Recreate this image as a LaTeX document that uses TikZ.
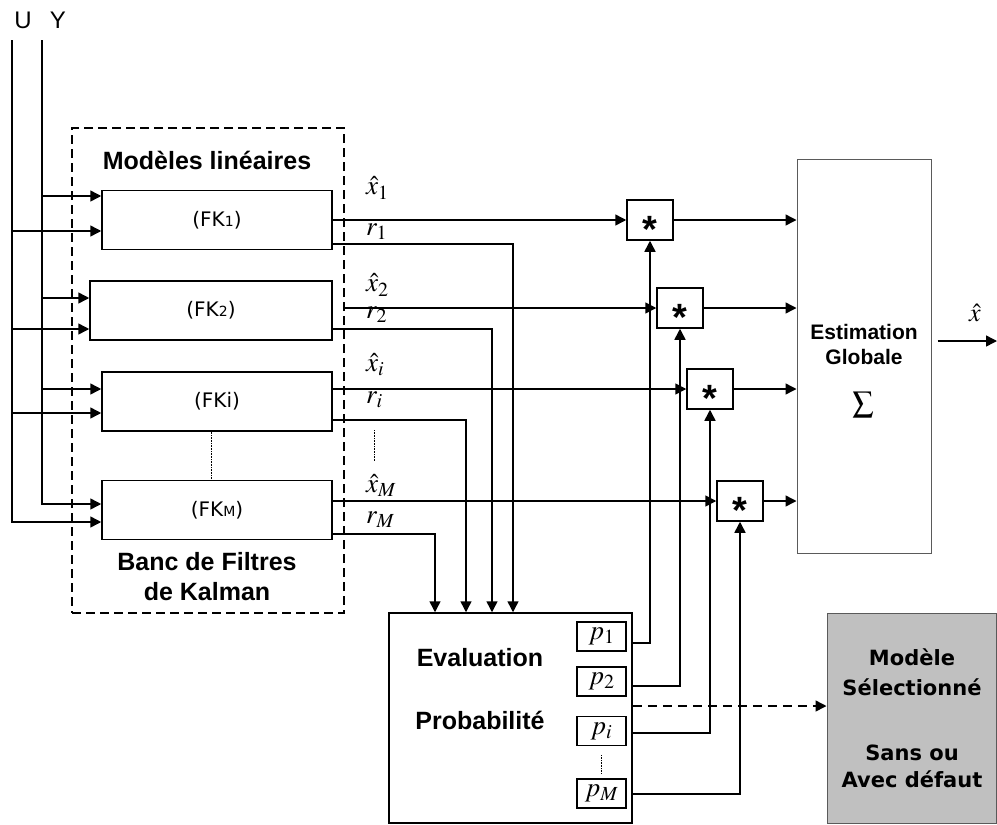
\documentclass[tikz,border=0pt]{standalone}
\usepackage{mathptmx}
\usepackage{fontspec}
\setmainfont{Liberation Sans}
\newfontfamily\comic{DejaVu Sans}
\usetikzlibrary{arrows.meta}
\definecolor{boxgray}{RGB}{192,192,192}
\definecolor{edgegray}{RGB}{90,90,90}
\newcommand{\smallc}[1]{{\fontsize{14}{14}\selectfont #1}}
\begin{document}
\begin{tikzpicture}[x=1pt,y=-1pt,
  ln/.style={line width=1.5pt},
  arr/.style={-{Triangle[length=11pt,width=11pt]}},
  blk/.style={draw,line width=1.5pt,rectangle,inner sep=0pt},
  fkbox/.style={blk,minimum width=230pt,minimum height=59pt,font=\comic\fontsize{20}{22}\selectfont},
  mult/.style={blk,minimum width=46pt,minimum height=40pt,font=\fontsize{38}{38}\selectfont\bfseries},
  pbox/.style={blk,minimum width=49pt,minimum height=29pt,font=\fontsize{27}{27}\selectfont},
  bigtxt/.style={font=\fontsize{25}{30}\selectfont\bfseries,align=center,inner sep=0pt},
  mlab/.style={font=\fontsize{27}{27}\selectfont,anchor=west,inner sep=0pt},
  io/.style={font=\fontsize{24}{24}\selectfont,inner sep=0pt}]
\useasboundingbox (0,0) rectangle (997,825);

% bank of filters (dashed)
\node[draw,dashed,dash pattern=on 9pt off 5pt,line width=1.3pt,minimum width=272pt,minimum height=485pt,inner sep=0pt] (bank) at (208,370.5) {};
\node[bigtxt] (tmod) at (207,160) {Modèles linéaires};
\node[bigtxt] (tbank) at (207,577) {Banc de Filtres\\de Kalman};

% filters
\node[fkbox] (FK1) at (217,220) {(FK\smallc{1})};
\node[fkbox,minimum width=242pt] (FK2) at (211,310.5) {(FK\smallc{2})};
\node[fkbox] (FKi) at (217,401.5) {(FKi)};
\node[fkbox] (FKM) at (217,510) {(FK\smallc{M})};
\draw[densely dotted,line width=0.6pt] (FKi.south -| 211,0) -- (FKM.north -| 211,0);

% inputs U, Y
\node[io] (tU) at (23,20) {U};
\node[io] (tY) at (58,20) {Y};
\coordinate (Utop) at (12,40);
\coordinate (Ytop) at (42,40);
\draw[ln,arr] (Ytop) |- (FKM.west |- 0,504);
\draw[ln,arr] (Utop) |- (FKM.west |- 0,522);
\draw[ln,arr] (Ytop |- 0,196) -- (FK1.west |- 0,196);
\draw[ln,arr] (Utop |- 0,231) -- (FK1.west |- 0,231);
\draw[ln,arr] (Ytop |- 0,298) -- (FK2.west |- 0,298);
\draw[ln,arr] (Utop |- 0,329) -- (FK2.west |- 0,329);
\draw[ln,arr] (Ytop |- 0,389) -- (FKi.west |- 0,389);
\draw[ln,arr] (Utop |- 0,413) -- (FKi.west |- 0,413);

% multipliers
\node[mult] (M1) at (650,220) {\raisebox{-0.58em}[0pt][0pt]{*}};
\node[mult] (M2) at (680,308) {\raisebox{-0.58em}[0pt][0pt]{*}};
\node[mult] (M3) at (710,389) {\raisebox{-0.58em}[0pt][0pt]{*}};
\node[mult] (M4) at (740,501) {\raisebox{-0.58em}[0pt][0pt]{*}};

% global estimation
\node[draw=edgegray,line width=1pt,minimum width=134pt,minimum height=394pt,inner sep=0pt] (Est) at (864,356) {};
\node[font=\fontsize{21}{25}\selectfont\bfseries,align=center,inner sep=0pt] (tEst) at (864,344) {Estimation\\Globale};
\node[font=\fontsize{30}{30}\selectfont,inner sep=0pt] (tsum) at (863,405) {$\sum$};
\coordinate (out) at (997,341);
\draw[ln,arr,shorten <=6pt] (Est.east |- out) -- (out);
\node[font=\fontsize{26}{26}\selectfont,inner sep=0pt] (txh) at (975,313) {$\hat{x}$};

% evaluation box
\node[blk,minimum width=243pt,minimum height=210pt] (Eval) at (510.5,718) {};
\node[bigtxt] (tev) at (480,658) {Evaluation};
\node[bigtxt] (tpr) at (480,720) {Probabilité};
\node[pbox] (p1) at (601.5,636.5) {$p_1$};
\node[pbox] (p2) at (601.5,681.5) {$p_2$};
\node[pbox] (pi) at (601.5,731) {$p_i$};
\node[pbox] (pM) at (601.5,793.5) {$p_M$};
\draw[densely dotted,line width=0.6pt,shorten <=9pt,shorten >=4pt] (pi.south) -- (pM.north);

% selected model box
\node[draw=edgegray,fill=boxgray,line width=1pt,minimum width=169pt,minimum height=210pt,inner sep=0pt] (Mod) at (911.5,718) {};
\node[font=\comic\bfseries\fontsize{21}{30}\selectfont,align=center,inner sep=0pt] (tm1) at (912,672) {Modèle\\Sélectionné};
\node[font=\comic\bfseries\fontsize{21}{27}\selectfont,align=center,inner sep=0pt] (tm2) at (912,766) {Sans ou\\Avec défaut};

% filter outputs
\draw[ln,arr] (FK1.east |- M1) -- (M1.west);
\draw[ln,arr] (FK1.east |- 0,244) -| (Eval.north -| 513,0);
\draw[ln,arr] (bank.east |- M2) -- (M2.west);
\draw[ln,arr] (FK2.east |- 0,329) -| (Eval.north -| 492,0);
\draw[ln,arr] (FKi.east |- M3) -- (M3.west);
\draw[ln,arr] (FKi.east |- 0,420) -| (Eval.north -| 466,0);
\draw[ln,arr] (FKM.east |- M4) -- (M4.west);
\draw[ln,arr] (FKM.east |- 0,534) -| (Eval.north -| 435,0);

% output labels
\node[mlab] (lx1) at (366,188) {$\hat{x}_1$};
\node[mlab] (lr1) at (366,232) {$r_1$};
\node[mlab] (lx2) at (366,285) {$\hat{x}_2$};
\node[mlab] (lr2) at (366,315) {$r_2$};
\node[mlab] (lxi) at (366,365) {$\hat{x}_i$};
\node[mlab] (lri) at (366,400) {$r_i$};
\node[mlab] (lxM) at (366,485) {$\hat{x}_M$};
\node[mlab] (lrM) at (366,520) {$r_M$};
\coordinate (d1) at (374,430);
\coordinate (d2) at (374,461);
\draw[densely dotted,line width=0.6pt] (d1) -- (d2);

% multiplier outputs
\draw[ln,arr] (M1.east) -- (Est.west |- M1);
\draw[ln,arr] (M2.east) -- (Est.west |- M2);
\draw[ln,arr] (M3.east) -- (Est.west |- M3);
\draw[ln,arr] (M4.east) -- (Est.west |- M4);

% probabilities to multipliers
\draw[ln,arr] (Eval.east |- 0,643) -| (M1.south);
\draw[ln,arr] (Eval.east |- 0,686) -| (M2.south);
\draw[ln,arr] (Eval.east |- 0,733) -| (M3.south);
\draw[ln,arr] (Eval.east |- 0,794) -| (M4.south);

% selected model
\draw[ln,arr,dashed,dash pattern=on 9pt off 6pt] (Eval.east |- 0,706) -- (Mod.west |- 0,706);
\end{tikzpicture}
\end{document}
